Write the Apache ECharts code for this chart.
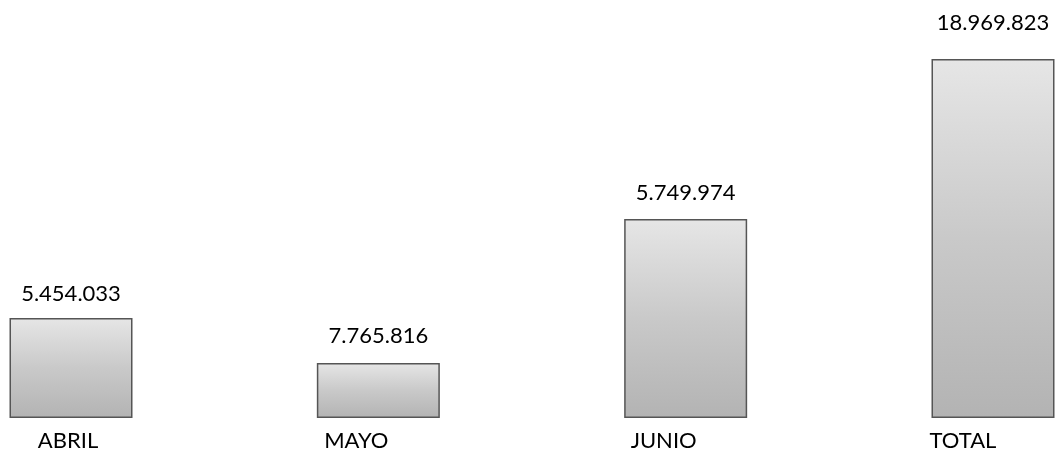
<!DOCTYPE html>
<html>
<head>
<meta charset="utf-8">
<script src="https://cdn.jsdelivr.net/npm/echarts@6/dist/echarts.min.js"></script>
<style>
  html, body { margin: 0; padding: 0; background: #fff; }
  #chart { width: 1055px; height: 453px; }
</style>
</head>
<body>
<div id="chart"></div>
<script>
  // meses y valores (altura de barra estimada)
  var categories = ['ABRIL', 'MAYO', 'JUNIO', 'TOTAL'];
  var barValues = [5284000, 2906000, 10515000, 18969823];
  // etiquetas tal como aparecen en el grafico
  var valueLabels = ['5.454.033', '7.765.816', '5.749.974', '18.969.823'];

  var labelShift = [3, 22, 22, 30];
  var labelGap = [13, 16, 15, 25];

  var chartDom = document.getElementById('chart');
  var myChart = echarts.init(chartDom);

  var barFill = {
    type: 'linear', x: 0, y: 0, x2: 0, y2: 1,
    colorStops: [
      { offset: 0, color: '#e6e6e6' },
      { offset: 0.5, color: '#c9c9c9' },
      { offset: 1, color: '#b3b3b3' }
    ]
  };

  var option = {
    animation: false,
    grid: { left: 71, right: 62, top: 39.5, bottom: 35 },
    xAxis: {
      type: 'category',
      boundaryGap: false,
      data: categories.map(function (c, i) {
        return { value: c, textStyle: { padding: [0, labelShift[i] * 2, 0, 0] } };
      }),
      axisLine: { show: false },
      axisTick: { show: false },
      axisLabel: {
        margin: 12,
        color: '#000',
        fontFamily: 'Lato',
        fontSize: 22,
        interval: 0
      }
    },
    yAxis: {
      type: 'value',
      min: 0,
      max: 20000000,
      show: false,
      splitLine: { show: false }
    },
    series: [
      {
        type: 'bar',
        data: barValues.map(function (v, i) {
          return { value: v, label: { distance: labelGap[i] } };
        }),
        barWidth: 123,
        clip: false,
        itemStyle: {
          color: barFill,
          borderColor: '#555',
          borderWidth: 1.5
        },
        label: {
          show: true,
          position: 'top',
          color: '#000',
          fontFamily: 'Lato',
          fontSize: 22,
          formatter: function (p) { return valueLabels[p.dataIndex]; }
        }
      }
    ]
  };

  myChart.setOption(option);
</script>
</body>
</html>
